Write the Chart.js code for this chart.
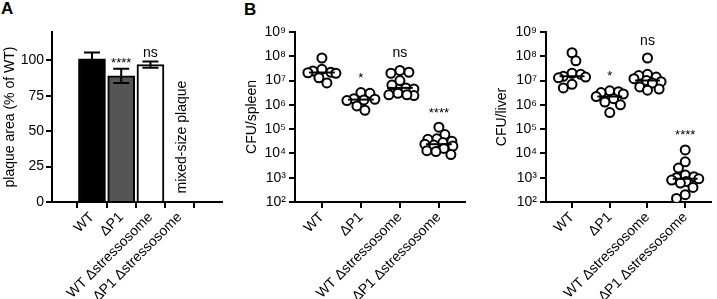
<!DOCTYPE html>
<html>
<head>
<meta charset="utf-8">
<script src="https://cdn.jsdelivr.net/npm/chart.js@4.4.0/dist/chart.umd.min.js"></script>
<style>
  body { margin: 0; width: 717px; height: 299px; background: #fff; position: relative; overflow: hidden; font-family: "Liberation Sans", Arial, sans-serif; }
  .box { position: absolute; top: 0; height: 299px; }
  .lab { position: absolute; font-weight: bold; font-size: 17px; }
</style>
</head>
<body>
<div class="lab" style="left:1px;top:-1px">A</div>
<div class="lab" style="left:244px;top:0px">B</div>
<div class="box" style="left:0;width:232px"><canvas id="chartA"></canvas></div>
<div class="box" style="left:232px;width:240px"><canvas id="chartSpleen"></canvas></div>
<div class="box" style="left:472px;width:245px"><canvas id="chartLiver"></canvas></div>
<script>
// strains (same order in every panel)
let strains = ['WT', 'ΔP1', 'WT Δstressosome', 'ΔP1 Δstressosome'];

// panel A: plaque area, % of WT (mean and error)
let plaqueMean = [101, 89, 97];
let plaqueErr = [4.5, 5, 2.2];
let plaqueColors = ['#000000', '#555555', '#ffffff'];
let plaqueSig = ['', '****', 'ns', ''];
let plaqueNote = 'mixed-size plaque';
let plaqueTicks = [0, 25, 50, 75, 100];

// panel B: CFU per organ, one array per strain
let spleenWT = [8.5e7, 2.9e7, 2.5e7, 2.2e7, 2.0e7, 2.1e7, 1.3e7, 8e6];
let spleenP1 = [3.2e6, 3.0e6, 1.8e6, 1.6e6, 1.5e6, 1.7e6, 9e5, 6e5];
let spleenWTds = [2.6e7, 2.2e7, 2.0e7, 1.0e7, 6.5e6, 5e6, 4.5e6, 3e6, 2.6e6, 2.4e6, 2.6e6];
let spleenP1ds = [1.2e5, 6e4, 4e4, 3.8e4, 3.2e4, 2.8e4, 2.4e4, 2.2e4, 2.0e4, 1.6e4, 1.3e4, 1.2e4, 9e3];
let spleenSig = ['', '*', 'ns', '****'];

let liverWT = [1.4e8, 6.5e7, 2.0e7, 1.8e7, 1.5e7, 1.4e7, 1.3e7, 7e6, 5e6];
let liverP1 = [3.8e6, 3.5e6, 3.2e6, 2.8e6, 2.2e6, 1.8e6, 1.3e6, 1.0e6, 4.8e5];
let liverWTds = [8.5e7, 1.8e7, 1.6e7, 1.4e7, 1.2e7, 1.0e7, 9e6, 8e6, 5.5e6, 4.5e6, 4e6];
let liverP1ds = [1.4e4, 4.5e3, 2.5e3, 1.3e3, 1.1e3, 1.0e3, 9e2, 8e2, 7e2, 6e2, 4e2, 2e2, 1.4e2];
let liverSig = ['', '*', 'ns', '****'];

let logTicks = [1e2, 1e3, 1e4, 1e5, 1e6, 1e7, 1e8, 1e9];

Chart.defaults.font.family = '"Liberation Sans", Arial, sans-serif';
Chart.defaults.font.size = 13;
Chart.defaults.color = '#000';
Chart.defaults.animation = false;
Chart.defaults.plugins.legend.display = false;
Chart.defaults.plugins.tooltip.enabled = false;

let sup = '⁰¹²³⁴⁵⁶⁷⁸⁹';
function powLabel(v) {
  let e = Math.round(Math.log10(v));
  return '10' + String(e).split('').map(d => sup[+d]).join('');
}

function median(arr) {
  let s = arr.slice().sort((a, b) => a - b);
  let m = Math.floor(s.length / 2);
  return s.length % 2 ? s[m] : Math.sqrt(s[m - 1] * s[m]);
}

// compact beeswarm: keep each group narrow, let circles overlap a bit
function swarm(values) {
  let pxDecade = 24.3, pxCat = 39, diam = 9, cap = 14;
  let order = values.map((v, i) => i).sort((a, b) => values[b] - values[a]);
  let placed = [];
  let offs = [];
  order.forEach((i, n) => {
    let y = Math.log10(values[i]) * pxDecade;
    let best = 0, bestScore = Infinity;
    for (let step = 0; step <= cap; step++) {
      let cands = step === 0 ? [0] : (n % 2 ? [step, -step] : [-step, step]);
      cands.forEach(c => {
        let score = 0;
        placed.forEach(p => { score += Math.max(0, diam - Math.hypot(p.x - c, p.y - y)); });
        if (score < bestScore - 0.01) { bestScore = score; best = c; }
      });
      if (bestScore === 0) break;
    }
    placed.push({ x: best, y: y });
    offs[i] = best / pxCat;
  });
  return offs;
}

let xTicksPlugin = (scale) => { scale.ticks = [0, 1, 2, 3].map(v => ({ value: v })); };

function xAxis(min, max) {
  return {
    type: 'linear', min: min, max: max,
    afterBuildTicks: xTicksPlugin,
    afterFit: (s) => { s.height = 97; },
    border: { color: '#000', width: 2 },
    grid: { drawOnChartArea: false, color: '#000', lineWidth: 2, tickLength: 6 },
    ticks: { minRotation: 45, maxRotation: 45, padding: 1, font: { size: 14 }, callback: (v) => strains[v] }
  };
}

// text over each group (significance stars)
let sigPlugin = {
  id: 'sig',
  afterDatasetsDraw(chart, args, opts) {
    let ctx = chart.ctx, x = chart.scales.x, y = chart.scales.y;
    ctx.save();
    ctx.fillStyle = '#000';
    ctx.textAlign = 'center';
    ctx.textBaseline = 'middle';
    opts.labels.forEach((t, i) => {
      if (!t) return;
      ctx.font = (t === 'ns' ? '14px' : '13px') + ' "Liberation Sans", Arial, sans-serif';
      let py = y.getPixelForValue(opts.tops[i]) - opts.gap;
      ctx.fillText(t, x.getPixelForValue(i), py + (t === 'ns' ? 0 : 3));
    });
    ctx.restore();
  }
};

// panel A
let errPlugin = {
  id: 'err',
  afterDatasetsDraw(chart) {
    let ctx = chart.ctx, x = chart.scales.x, y = chart.scales.y;
    ctx.save();
    ctx.strokeStyle = '#000';
    ctx.lineWidth = 2;
    plaqueMean.forEach((m, i) => {
      let px = x.getPixelForValue(i);
      let top = y.getPixelForValue(m + plaqueErr[i]);
      let bot = y.getPixelForValue(m - plaqueErr[i]);
      ctx.strokeStyle = i === 0 ? '#000' : '#000';
      ctx.beginPath();
      ctx.moveTo(px, top); ctx.lineTo(px, bot);
      ctx.moveTo(px - 8, top); ctx.lineTo(px + 8, top);
      ctx.moveTo(px - 8, bot); ctx.lineTo(px + 8, bot);
      ctx.stroke();
    });
    // note in the empty 4th slot
    ctx.fillStyle = '#000';
    ctx.font = '14px "Liberation Sans", Arial, sans-serif';
    ctx.translate(x.getPixelForValue(3) + 2, y.getPixelForValue(6));
    ctx.rotate(-Math.PI / 2);
    ctx.textAlign = 'left';
    ctx.textBaseline = 'middle';
    ctx.fillText(plaqueNote, 0, 0);
    ctx.restore();
  }
};

new Chart(document.getElementById('chartA'), {
  type: 'bar',
  data: {
    datasets: [{
      data: plaqueMean.map((v, i) => ({ x: i, y: v })),
      backgroundColor: plaqueColors,
      borderColor: '#000',
      borderWidth: 2,
      barThickness: 27
    }]
  },
  options: {
    responsive: true,
    maintainAspectRatio: false,
    layout: { padding: { top: 32, right: 10, left: 0, bottom: 0 } },
    scales: {
      x: xAxis(-0.64, 3.72),
      y: {
        min: 0, max: 120,
        afterBuildTicks: (s) => { s.ticks = plaqueTicks.map(v => ({ value: v })); },
        afterFit: (s) => { s.width = 52; },
        border: { color: '#000', width: 2 },
        grid: { drawOnChartArea: false, color: '#000', lineWidth: 2, tickLength: 6 },
        ticks: { padding: 2, font: { size: 14 } },
        title: { display: true, text: 'plaque area (% of WT)', font: { size: 14 }, padding: { top: 2, bottom: 0 } }
      }
    },
    plugins: {
      sig: { labels: plaqueSig, tops: plaqueMean.map((m, i) => m + plaqueErr[i]), gap: 8 }
    }
  },
  plugins: [errPlugin, sigPlugin]
});

// panel B
function cfuChart(id, groups, sig, title, yWidth, titlePad, padRight) {
  let points = [];
  groups.forEach((vals, g) => {
    let offs = swarm(vals);
    vals.forEach((v, k) => points.push({ x: g + offs[k], y: v }));
  });
  let medians = groups.map((vals, g) => ({
    type: 'line',
    data: [{ x: g - 0.33, y: median(vals) }, { x: g + 0.33, y: median(vals) }],
    borderColor: '#000', borderWidth: 2, pointRadius: 0, showLine: true, order: 0
  }));
  new Chart(document.getElementById(id), {
    type: 'scatter',
    data: {
      datasets: [{
        data: points,
        pointRadius: 4.5,
        pointBorderWidth: 2,
        pointBorderColor: '#000',
        pointBackgroundColor: '#fff',
        order: 1
      }].concat(medians)
    },
    options: {
      responsive: true,
      maintainAspectRatio: false,
      layout: { padding: { top: 32, right: padRight, left: 0, bottom: 0 } },
      scales: {
        x: xAxis(-0.69, 3.67),
        y: {
          type: 'logarithmic', min: 1e2, max: 1e9,
          afterBuildTicks: (s) => { s.ticks = logTicks.map(v => ({ value: v })); },
          afterFit: (s) => { s.width = yWidth; },
          border: { color: '#000', width: 2 },
          grid: { drawOnChartArea: false, color: '#000', lineWidth: 2, tickLength: 6 },
          ticks: { padding: 3, font: { size: 14 }, callback: (v) => powLabel(v) },
          title: { display: true, text: title, font: { size: 14 }, padding: { top: titlePad, bottom: 0 } }
        }
      },
      plugins: {
        sig: { labels: sig, tops: groups.map(vals => Math.max.apply(null, vals)), gap: 17 }
      }
    },
    plugins: [sigPlugin]
  });
}

cfuChart('chartSpleen', [spleenWT, spleenP1, spleenWTds, spleenP1ds], spleenSig, 'CFU/spleen', 63, 12, 7);
cfuChart('chartLiver', [liverWT, liverP1, liverWTds, liverP1ds], liverSig, 'CFU/liver', 74, 22, 1);
</script>
</body>
</html>
